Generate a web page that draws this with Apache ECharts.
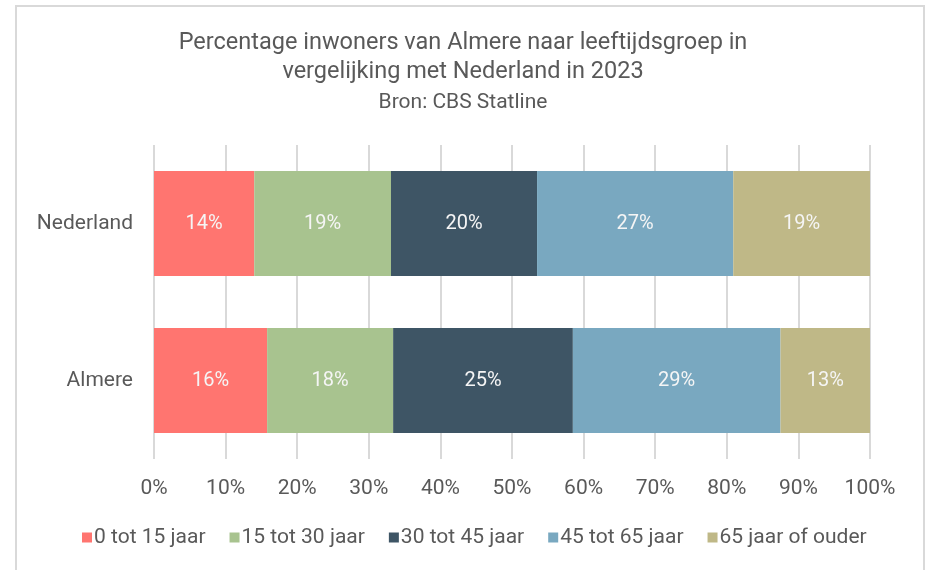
<!DOCTYPE html>
<html>
<head>
<meta charset="utf-8">
<script src="https://cdn.jsdelivr.net/npm/echarts@6/dist/echarts.min.js"></script>
<style>
  html, body { margin: 0; padding: 0; background: #fff; }
  #chart { width: 926px; height: 570px; }
</style>
</head>
<body>
<div id="chart"></div>
<script>
// categories (bottom to top, as drawn on the y axis)
const regions = ['Almere', 'Nederland']
const ageGroups = ['0 tot 15 jaar', '15 tot 30 jaar', '30 tot 45 jaar', '45 tot 65 jaar', '65 jaar of ouder']

// share per age group, [Almere, Nederland]
const age0to15 = [15.8, 14.0]
const age15to30 = [17.6, 19.1]
const age30to45 = [25.1, 20.4]
const age45to65 = [29.0, 27.4]
const age65plus = [12.5, 19.1]

const seriesValues = [age0to15, age15to30, age30to45, age45to65, age65plus]
const colors = ['#ff7570', '#a8c38f', '#3e5565', '#79a8c0', '#bfb887']

const font = 'Roboto'
const textColor = '#595959'

const chart = echarts.init(document.getElementById('chart'))

const option = {
  animation: false,
  color: colors,
  title: {
    text: 'Percentage inwoners van Almere naar leeftijdsgroep in\nvergelijking met Nederland in 2023',
    subtext: 'Bron: CBS Statline',
    left: 'center',
    top: 24,
    itemGap: 4,
    textStyle: {
      fontFamily: font,
      fontSize: 23.5,
      fontWeight: 'normal',
      color: textColor,
      lineHeight: 29
    },
    subtextStyle: {
      fontFamily: font,
      fontSize: 21,
      color: textColor,
      lineHeight: 24
    }
  },
  graphic: [
    {
      type: 'rect',
      silent: true,
      z: -1,
      shape: { x: 16, y: 6, width: 908, height: 620 },
      style: { fill: 'none', stroke: '#d9d9d9', lineWidth: 2 }
    }
  ],
  legend: {
    bottom: 17,
    left: 77,
    icon: 'rect',
    itemWidth: 10,
    itemHeight: 10,
    itemGap: 24,
    textStyle: { fontFamily: font, fontSize: 21, color: textColor, padding: [0, 0, 0, -3] },
    data: ageGroups
  },
  grid: { left: 154, right: 56, top: 145, bottom: 111 },
  xAxis: {
    type: 'value',
    min: 0,
    max: 100,
    interval: 10,
    axisLine: { show: false },
    axisTick: { show: false },
    axisLabel: {
      formatter: '{value}%',
      fontFamily: font,
      fontSize: 21,
      color: textColor,
      margin: 19
    },
    splitLine: { lineStyle: { color: '#d9d9d9', width: 2 } }
  },
  yAxis: {
    type: 'category',
    data: regions,
    axisLine: { show: false },
    axisTick: { show: false },
    axisLabel: {
      fontFamily: font,
      fontSize: 21,
      color: textColor,
      margin: 21
    }
  },
  series: ageGroups.map((name, i) => ({
    name: name,
    type: 'bar',
    stack: 'total',
    barWidth: 105,
    data: seriesValues[i],
    label: {
      show: true,
      position: 'inside',
      formatter: p => Math.round(p.value) + '%',
      fontFamily: font,
      fontSize: 20,
      color: '#f5f5f5'
    }
  }))
}

chart.setOption(option)
</script>
</body>
</html>
